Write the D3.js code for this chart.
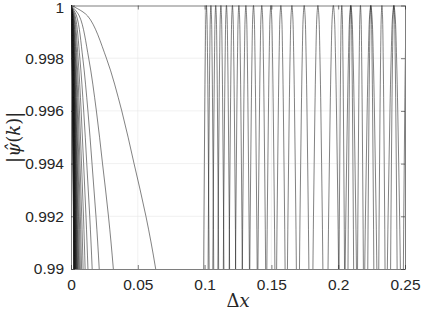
<!DOCTYPE html>
<html>
<head>
<meta charset="utf-8">
<script src="https://cdn.jsdelivr.net/npm/d3@7"></script>
<style>
  body { margin: 0; background: #fff; }
  svg { display: block; }
</style>
</head>
<body>
<div id="chart"></div>
<script>
const width = 421
const height = 311

// one curve per wavenumber index k
const modes = [1, 2, 3, 4, 5, 6, 7, 8, 9, 10, 11, 12, 13, 14, 15, 16,
  17, 18, 19, 20, 21, 22, 23, 24, 25, 26, 27, 28, 29, 30, 31]

// |psi| along the k = 1 curve (u = k * dx)
const profileU = [0, 0.0125, 0.0265, 0.038, 0.0472, 0.0561, 0.0634, 0.072]
const profileV = [1, 0.9996, 0.998, 0.996, 0.994, 0.992, 0.99, 0.987]

// the curves come back to 1 every pi in k * dx
const returns = [0, Math.PI, 2 * Math.PI]

const xTicks = [0, 0.05, 0.1, 0.15, 0.2, 0.25]
const xTickLabels = ["0", "0.05", "0.1", "0.15", "0.2", "0.25"]
const yTicks = [0.99, 0.992, 0.994, 0.996, 0.998, 1]
const yTickLabels = ["0.99", "0.992", "0.994", "0.996", "0.998", "1"]

const margin = { top: 5.5, right: 16, bottom: 42, left: 71 }

const x = d3.scaleLinear().domain([0, 0.25]).range([margin.left, width - margin.right])
const y = d3.scaleLinear().domain([0.99, 1]).range([height - margin.bottom, margin.top])

const svg = d3.select("#chart")
  .append("svg")
    .attr("width", width)
    .attr("height", height)

svg.append("defs").append("clipPath")
    .attr("id", "plot")
  .append("rect")
    .attr("x", x(0))
    .attr("y", y(1) - 1)
    .attr("width", x(0.25) - x(0))
    .attr("height", y(0.99) - y(1) + 1)

// grid
const grid = svg.append("g")
    .attr("stroke", "#e6e6e6")
    .attr("stroke-width", 0.6)
grid.selectAll(".gx")
  .data(xTicks.slice(1, -1))
  .join("line")
    .attr("x1", d => x(d)).attr("x2", d => x(d))
    .attr("y1", y(1)).attr("y2", y(0.99))
grid.selectAll(".gy")
  .data(yTicks.slice(1, -1))
  .join("line")
    .attr("y1", d => y(d)).attr("y2", d => y(d))
    .attr("x1", x(0)).attr("x2", x(0.25))

// build every arch: the profile mirrored around each return point, scaled by 1/k
const arches = []
for (const k of modes) {
  for (const c of returns) {
    const pts = []
    if (c > 0) {
      for (let i = profileU.length - 1; i > 0; i--) pts.push([(c - profileU[i]) / k, profileV[i]])
    }
    for (let i = 0; i < profileU.length; i++) pts.push([(c + profileU[i]) / k, profileV[i]])
    if (pts[0][0] <= 0.25) arches.push(pts)
  }
}

const line = d3.line()
  .x(d => x(d[0]))
  .y(d => y(d[1]))
  .curve(d3.curveCatmullRom)

svg.append("g")
    .attr("clip-path", "url(#plot)")
    .attr("fill", "none")
    .attr("stroke", "#1a1a1a")
    .attr("stroke-width", 0.55)
  .selectAll("path")
  .data(arches)
  .join("path")
    .attr("d", line)

// axes, MATLAB style: box with inward ticks on all sides
const axisColor = "#262626"
const font = "'Liberation Sans', Arial, Helvetica, sans-serif"

svg.append("g")
    .attr("transform", `translate(0,${y(0.99)})`)
    .call(d3.axisBottom(x).tickValues(xTicks).tickFormat((d, i) => xTickLabels[i]).tickSizeInner(-4).tickSizeOuter(0).tickPadding(10))
svg.append("g")
    .attr("transform", `translate(0,${y(1)})`)
    .call(d3.axisTop(x).tickValues(xTicks).tickFormat("").tickSizeInner(-4).tickSizeOuter(0))
svg.append("g")
    .attr("class", "yaxis")
    .attr("transform", `translate(${x(0)},0)`)
    .call(d3.axisLeft(y).tickValues(yTicks).tickFormat((d, i) => yTickLabels[i]).tickSizeInner(-4).tickSizeOuter(0).tickPadding(7))
svg.append("g")
    .attr("transform", `translate(${x(0.25)},0)`)
    .call(d3.axisRight(y).tickValues(yTicks).tickFormat("").tickSizeInner(-4).tickSizeOuter(0))

svg.selectAll(".domain, .tick line")
    .attr("stroke", axisColor)
    .attr("stroke-width", 0.6)
svg.selectAll(".tick text")
    .attr("fill", axisColor)
    .style("font-family", font)
    .style("font-size", "15.5px")

// keep the top label inside the picture
svg.select(".yaxis").selectAll(".tick text")
    .filter(d => d === 1)
    .attr("dy", "0.45em")

// axis labels
const serif = "'DejaVu Serif', 'Liberation Serif', serif"

const xl = svg.append("text")
    .attr("x", (x(0) + x(0.25)) / 2)
    .attr("y", height - 4)
    .attr("text-anchor", "middle")
    .attr("fill", axisColor)
    .style("font-family", serif)
    .style("font-size", "18px")
xl.append("tspan").text("Δ")
xl.append("tspan").style("font-style", "italic").text("x")

const yl = svg.append("text")
    .attr("transform", `translate(20,${(y(1) + y(0.99)) / 2}) rotate(-90)`)
    .attr("text-anchor", "middle")
    .attr("fill", axisColor)
    .style("font-family", serif)
    .style("font-size", "18px")
yl.append("tspan").text("|")
yl.append("tspan").style("font-style", "italic").text("ψ\u0302")
yl.append("tspan").text("(")
yl.append("tspan").style("font-style", "italic").text("k")
yl.append("tspan").text(")|")
</script>
</body>
</html>
